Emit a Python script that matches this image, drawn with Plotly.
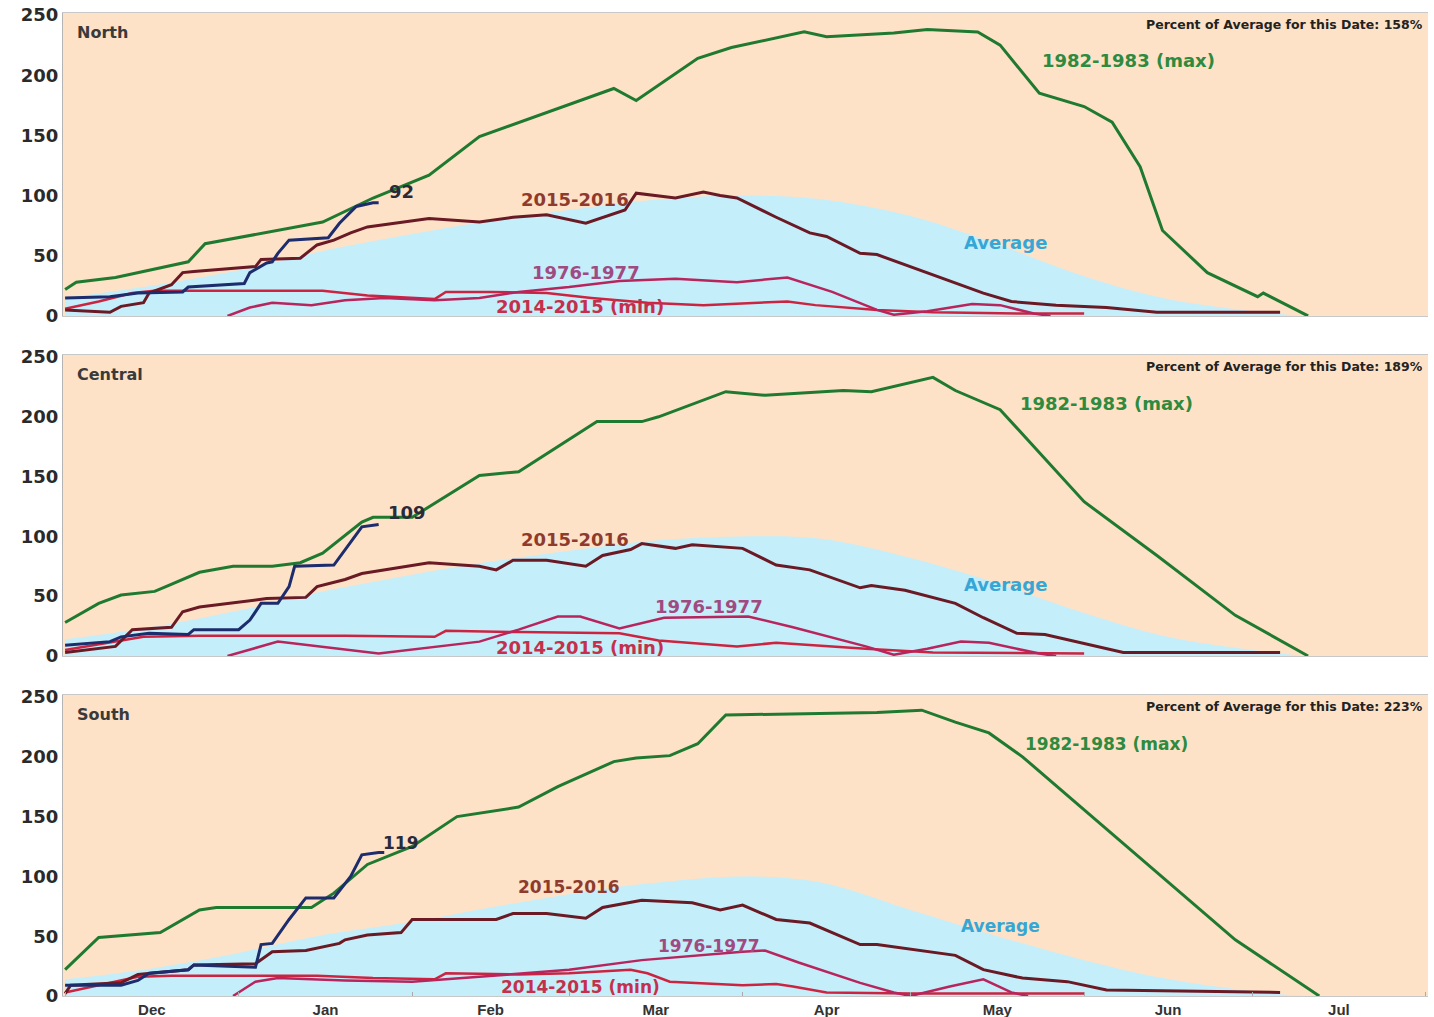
import plotly.graph_objects as go
from plotly.subplots import make_subplots

# ------------------------------------------------------------------ data
region_names = ["North", "Central", "South"]
pct_of_avg_today = [158, 189, 223]
current_pct = [92, 109, 119]

avg_dates = ["12-01", "12-15", "01-01", "01-15", "02-01", "02-15", "03-01", "03-15",
             "04-01", "04-15", "05-01", "05-15", "06-01", "06-15", "07-01", "07-10"]
north_avg = [15, 24, 38, 53, 68, 79, 88, 96, 100, 97, 83, 62, 33, 15, 4, 0]
central_avg = [14, 23, 38, 53, 68, 79, 88, 96, 100, 98, 82, 63, 36, 17, 5, 0]
south_avg = [14, 22, 36, 50, 62, 74, 85, 94, 100, 95, 72, 52, 30, 15, 4, 0]

# ---- North
north_max_dates = ["12-01", "12-03", "12-10", "12-23", "12-26", "01-16", "01-25", "02-04", "02-13",
                   "03-09", "03-13", "03-24", "03-30", "04-12", "04-16", "04-28", "05-04", "05-13",
                   "05-17", "05-24", "06-01", "06-06", "06-11", "06-15", "06-23", "07-02", "07-03", "07-11"]
north_max = [22, 28, 32, 45, 60, 78, 98, 117, 149, 189, 179, 214, 223, 236, 232, 235, 238, 236,
             225, 185, 174, 161, 124, 71, 36, 16, 19, 0]
north_1516_dates = ["12-01", "12-09", "12-11", "12-15", "12-16", "12-20", "12-22", "12-24", "01-04", "01-05",
                    "01-12", "01-15", "01-18", "01-21", "01-24", "01-30", "02-04", "02-13", "02-19", "02-25",
                    "03-04", "03-11", "03-13", "03-20", "03-25", "03-28", "03-31", "04-07", "04-13", "04-16",
                    "04-22", "04-25", "05-09", "05-14", "05-19", "05-27", "06-05", "06-14", "07-06"]
north_1516 = [5, 3, 8, 11, 19, 26, 36, 37, 41, 47, 48, 59, 63, 69, 74, 78, 81, 78, 82, 84,
              77, 88, 102, 98, 103, 100, 98, 82, 69, 66, 52, 51, 27, 19, 12, 9, 7, 3, 3]
north_7677_dates = ["12-30", "01-03", "01-07", "01-14", "01-20", "01-27", "02-05", "02-13", "02-20", "03-01",
                    "03-10", "03-20", "03-31", "04-09", "04-17", "04-25", "04-28", "05-04", "05-12", "05-17",
                    "05-23", "05-26"]
north_7677 = [0, 7, 11, 9, 13, 15, 13, 15, 20, 24, 29, 31, 28, 32, 20, 5, 1, 4, 10, 9, 2, 0]
north_1415_dates = ["12-01", "12-07", "12-13", "12-17", "01-16", "01-24", "02-05", "02-07", "02-15", "02-25",
                    "03-05", "03-15", "03-25", "04-05", "04-09", "04-14", "04-25", "05-05", "05-20", "06-01"]
north_1415 = [6, 12, 19, 21, 21, 17, 14, 20, 20, 19, 15, 11, 9, 11, 12, 9, 5, 3, 2, 2]
north_cur_dates = ["12-01", "12-09", "12-14", "12-22", "12-23", "01-02", "01-03", "01-06", "01-07", "01-08",
                   "01-10", "01-17", "01-19", "01-22", "01-25", "01-26"]
north_cur = [15, 16, 19, 20, 24, 27, 36, 44, 45, 52, 63, 65, 77, 91, 94, 94]

# ---- Central
central_max_dates = ["12-01", "12-07", "12-11", "12-17", "12-19", "12-25", "12-31", "01-07", "01-12", "01-16",
                     "01-23", "01-25", "02-01", "02-13", "02-20", "03-06", "03-14", "03-17", "03-29", "04-05",
                     "04-19", "04-24", "05-05", "05-09", "05-17", "06-01", "06-14", "06-28", "07-11"]
central_max = [28, 44, 51, 54, 58, 70, 75, 75, 78, 86, 112, 116, 116, 151, 154, 196, 196, 200, 221, 218,
               222, 221, 233, 222, 206, 129, 84, 34, 0]
central_1516_dates = ["12-01", "12-10", "12-13", "12-20", "12-22", "12-25", "01-06", "01-13", "01-15", "01-20",
                      "01-23", "01-31", "02-04", "02-13", "02-16", "02-19", "02-25", "03-04", "03-07", "03-12",
                      "03-14", "03-20", "03-23", "04-01", "04-07", "04-13", "04-22", "04-24", "04-30", "05-09",
                      "05-14", "05-20", "05-25", "06-08", "07-06"]
central_1516 = [3, 8, 22, 24, 37, 41, 48, 49, 58, 64, 69, 75, 78, 75, 72, 80, 80, 75, 84, 89,
                94, 90, 93, 90, 76, 72, 57, 59, 55, 44, 32, 19, 18, 3, 3]
central_7677_dates = ["12-30", "01-08", "01-26", "02-13", "02-20", "02-27", "03-03", "03-10", "03-18", "04-02",
                      "04-10", "04-23", "04-28", "05-04", "05-10", "05-15", "05-24", "05-27"]
central_7677 = [0, 12, 2, 12, 22, 33, 33, 23, 32, 33, 24, 8, 1, 6, 12, 11, 2, 0]
central_1415_dates = ["12-01", "12-10", "12-15", "12-25", "01-20", "02-05", "02-07", "02-20", "03-10", "03-17",
                      "03-31", "04-07", "04-13", "04-23", "05-05", "06-01"]
central_1415 = [5, 12, 16, 17, 17, 16, 21, 20, 19, 13, 8, 11, 9, 6, 3, 2]
central_cur_dates = ["12-01", "12-09", "12-11", "12-16", "12-23", "12-24", "01-01", "01-03", "01-05", "01-08",
                     "01-10", "01-11", "01-18", "01-20", "01-23", "01-26"]
central_cur = [9, 12, 16, 19, 18, 22, 22, 30, 44, 44, 58, 75, 76, 89, 108, 110]

# ---- South
south_max_dates = ["12-01", "12-07", "12-18", "12-25", "12-28", "01-14", "01-16", "01-18", "01-24", "02-01",
                   "02-09", "02-13", "02-20", "02-27", "03-09", "03-13", "03-19", "03-24", "03-29", "04-25",
                   "05-03", "05-09", "05-15", "05-21", "06-28", "07-13"]
south_max = [22, 49, 53, 72, 74, 74, 80, 86, 110, 125, 150, 153, 158, 175, 196, 199, 201, 211, 235, 237,
             239, 229, 220, 200, 47, 0]
south_1516_dates = ["12-01", "12-02", "12-11", "12-14", "12-23", "12-24", "01-04", "01-07", "01-13", "01-19",
                    "01-20", "01-24", "01-30", "02-01", "02-16", "02-19", "02-25", "03-04", "03-07", "03-14",
                    "03-23", "03-28", "04-01", "04-07", "04-13", "04-22", "04-25", "05-09", "05-14", "05-21",
                    "05-29", "06-05", "07-06"]
south_1516 = [2, 9, 11, 18, 22, 26, 27, 37, 38, 44, 47, 51, 53, 64, 64, 69, 69, 65, 74, 80,
              78, 72, 76, 64, 61, 43, 43, 34, 22, 15, 12, 5, 3]
south_7677_dates = ["12-31", "01-04", "01-08", "01-20", "02-01", "02-13", "03-01", "03-14", "04-01", "04-05",
                    "04-11", "04-22", "04-28", "05-01", "05-08", "05-14", "05-19", "05-22"]
south_7677 = [0, 12, 15, 13, 12, 16, 22, 30, 37, 38, 28, 11, 3, 0, 8, 14, 3, 0]
south_1415_dates = ["12-01", "12-08", "12-14", "12-20", "01-15", "01-25", "02-05", "02-07", "02-20", "03-01",
                    "03-12", "03-15", "03-19", "04-01", "04-07", "04-10", "04-16", "05-01", "06-01"]
south_1415 = [3, 10, 16, 17, 17, 15, 14, 19, 18, 19, 22, 19, 12, 9, 10, 8, 3, 2, 2]
south_cur_dates = ["12-01", "12-11", "12-14", "12-16", "12-23", "12-24", "01-04", "01-05", "01-07", "01-10",
                   "01-13", "01-18", "01-21", "01-23", "01-26", "01-27"]
south_cur = [9, 9, 13, 19, 22, 26, 24, 43, 44, 64, 82, 82, 100, 118, 120, 120]

series_names = ["Average", "1982-1983 (max)", "2015-2016", "1976-1977", "2014-2015 (min)"]


def full_dates(mmdd):
    out = []
    for s in mmdd:
        m, d = int(s[:2]), int(s[3:])
        yr = 2016 if m >= 10 else 2017
        out.append(f"{yr}-{m:02d}-{d:02d}")
    return out


# ------------------------------------------------------------------ styles
C_MAX = "#1f7a30"
C_1516 = "#6a1a24"
C_7677 = "#b8245c"
C_1415 = "#cc2440"
C_CUR = "#1c2c6c"
C_AVG_FILL = "#c4eefa"
BG = "#fde2c8"

T_MAX = "#2e8a3e"
T_1516 = "#8e3a2c"
T_AVG = "#36a6d6"
T_7677 = "#a04a82"
T_1415 = "#c4304c"
T_CUR = "#2a2a3a"

fig = make_subplots(rows=3, cols=1, shared_xaxes=True, vertical_spacing=0.04)

panels = [
    (north_avg, north_max_dates, north_max, north_1516_dates, north_1516, north_7677_dates, north_7677,
     north_1415_dates, north_1415, north_cur_dates, north_cur),
    (central_avg, central_max_dates, central_max, central_1516_dates, central_1516, central_7677_dates,
     central_7677, central_1415_dates, central_1415, central_cur_dates, central_cur),
    (south_avg, south_max_dates, south_max, south_1516_dates, south_1516, south_7677_dates, south_7677,
     south_1415_dates, south_1415, south_cur_dates, south_cur),
]

for i, (avg, mxd, mxv, d16, v16, d77, v77, d15, v15, dc, vc) in enumerate(panels):
    row = i + 1
    fig.add_trace(go.Scatter(x=full_dates(avg_dates), y=avg, mode="lines", line=dict(width=0, shape="spline"),
                             fill="tozeroy", fillcolor=C_AVG_FILL, name=series_names[0], showlegend=False),
                  row=row, col=1)
    fig.add_trace(go.Scatter(x=full_dates(d15), y=v15, mode="lines", line=dict(color=C_1415, width=2.5),
                             name=series_names[4], showlegend=False), row=row, col=1)
    fig.add_trace(go.Scatter(x=full_dates(d77), y=v77, mode="lines", line=dict(color=C_7677, width=2.5),
                             name=series_names[3], showlegend=False), row=row, col=1)
    fig.add_trace(go.Scatter(x=full_dates(d16), y=v16, mode="lines", line=dict(color=C_1516, width=3),
                             name=series_names[2], showlegend=False), row=row, col=1)
    fig.add_trace(go.Scatter(x=full_dates(mxd), y=mxv, mode="lines", line=dict(color=C_MAX, width=3),
                             name=series_names[1], showlegend=False), row=row, col=1)
    fig.add_trace(go.Scatter(x=full_dates(dc), y=vc, mode="lines", line=dict(color=C_CUR, width=3),
                             name="Current", showlegend=False), row=row, col=1)

# ------------------------------------------------------------------ layout
domains = [[0.6918, 1.0], [0.3459, 0.6521], [0.0, 0.3062]]
x_range = ["2016-11-30 15:00", "2017-08-01 10:00"]
tick_font = dict(family="DejaVu Sans", size=18, color="#2a2a2a", weight="bold")

for i in range(3):
    xa = "xaxis" if i == 0 else f"xaxis{i + 1}"
    ya = "yaxis" if i == 0 else f"yaxis{i + 1}"
    fig.layout[ya].update(domain=domains[i], range=[0, 251.7], tickvals=[0, 50, 100, 150, 200, 250],
                          showgrid=False, zeroline=False, showline=True, linecolor="#b4b4b4",
                          linewidth=1, ticks="", tickfont=tick_font, fixedrange=True, automargin=False,
                          ticklabeloverflow="allow")
    fig.layout[xa].update(type="date", range=x_range, showgrid=False, zeroline=False, showline=True,
                          mirror=True, linecolor="#c8c8c8", linewidth=1, dtick="M1", tick0="2016-12-01",
                          tickformat="%b", ticklabelmode="period", automargin=False,
                          showticklabels=(i == 2), ticks="inside" if i == 2 else "",
                          ticklen=4, tickcolor="#aaaaaa", ticklabeloverflow="allow",
                          tickfont=dict(family="Liberation Sans", size=15, color="#333333", weight="bold"))

# series labels: (text, mm-dd, value, colour) per panel
label_specs = [
    [("1982-1983 (max)", "06-09", 212, T_MAX), ("2015-2016", "03-02", 97, T_1516),
     ("Average", "05-18", 61, T_AVG), ("1976-1977", "03-04", 36.5, T_7677),
     ("2014-2015 (min)", "03-03", 7.5, T_1415), (str(current_pct[0]), "01-30", 103, T_CUR)],
    [("1982-1983 (max)", "06-05", 211.5, T_MAX), ("2015-2016", "03-02", 97, T_1516),
     ("Average", "05-18", 59.4, T_AVG), ("1976-1977", "03-26", 41, T_7677),
     ("2014-2015 (min)", "03-03", 6.7, T_1415), (str(current_pct[1]), "01-31", 119.6, T_CUR)],
    [("1982-1983 (max)", "06-05", 210.7, T_MAX), ("2015-2016", "03-01", 91, T_1516),
     ("Average", "05-17", 58.5, T_AVG), ("1976-1977", "03-26", 42, T_7677),
     ("2014-2015 (min)", "03-03", 7.5, T_1415), (str(current_pct[2]), "01-30", 128, T_CUR)],
]
label_sizes = [18, 18, 17]

annotations = []
for i, specs in enumerate(label_specs):
    xr = "x" if i == 0 else f"x{i + 1}"
    yr = "y" if i == 0 else f"y{i + 1}"
    for text, md, val, col in specs:
        annotations.append(dict(text=text, x=full_dates([md])[0], y=val, xref=xr, yref=yr,
                                showarrow=False, xanchor="center", yanchor="middle",
                                font=dict(family="DejaVu Sans", size=label_sizes[i], color=col,
                                          weight="bold")))
    annotations.append(dict(text=region_names[i], x=0.009, y=0.934, xref=f"{xr} domain",
                            yref=f"{yr} domain", showarrow=False, xanchor="left", yanchor="middle",
                            font=dict(family="DejaVu Sans", size=16, color="#3a3a3a", weight="bold")))
    annotations.append(dict(text=f"Percent of Average for this Date: {pct_of_avg_today[i]}%",
                            x=0.998, y=0.962, xref=f"{xr} domain", yref=f"{yr} domain",
                            showarrow=False, xanchor="right", yanchor="middle",
                            font=dict(family="DejaVu Sans", size=12.5, color="#222222", weight="bold")))

fig.update_layout(width=1434, height=1017, margin=dict(l=63, r=6, t=13, b=21, autoexpand=False),
                  paper_bgcolor="white", plot_bgcolor=BG, showlegend=False,
                  annotations=annotations, hovermode=False)

# remove the default 8 px page margin so the figure sits at the window's top-left corner
fig.write_html("out.html", config={"displayModeBar": False},
               post_script="document.body.style.margin='0px';")
